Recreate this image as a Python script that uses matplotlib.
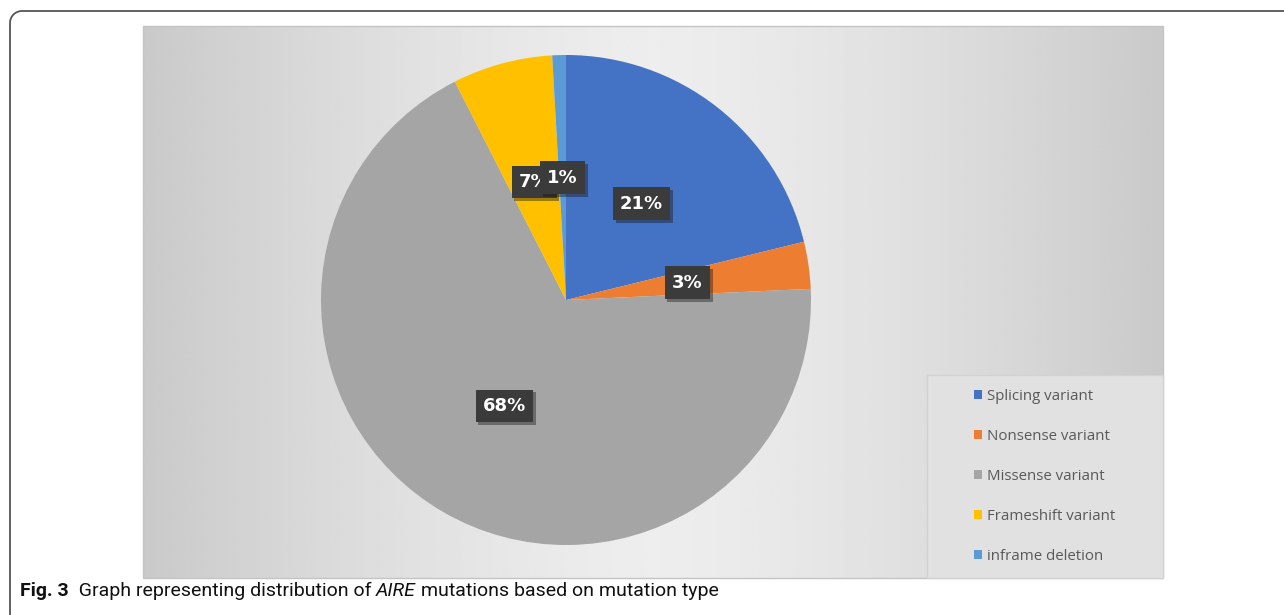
import numpy as np
import matplotlib
matplotlib.use('Agg')
import matplotlib.pyplot as plt
from matplotlib.patches import Rectangle, Arc
import matplotlib.patheffects as pe

# data (percent of mutations)
labels = ['Splicing variant', 'Nonsense variant', 'Missense variant',
          'Frameshift variant', 'inframe deletion']
values = [21.2, 3.1, 68.3, 6.6, 0.9]
colors = ['#4472C4', '#ED7D31', '#A5A5A5', '#FFC000', '#5B9BD5']
caption_bold = 'Fig. 3'
caption_parts = [('  Graph representing distribution of ', 'normal'),
                 ('AIRE', 'italic'),
                 (' mutations based on mutation type', 'normal')]

W, H = 1284, 615
fig = plt.figure(figsize=(W / 100, H / 100), dpi=100)

# full-figure axes in pixel units for the frame, panel and caption
bg = fig.add_axes([0, 0, 1, 1], zorder=0)

# outer frame: top and left lines with a rounded top-left corner
fc = '#555555'
bg.plot([22, W + 5], [11, 11], color=fc, lw=1.3, solid_capstyle='butt')
bg.plot([10, 10], [23, H + 5], color=fc, lw=1.3, solid_capstyle='butt')
bg.add_patch(Arc((22, 23), 24, 24, theta1=180, theta2=270, color=fc, lw=1.3))

# chart panel with horizontal grey gradient
px0, px1, py0, py1 = 143, 1163, 26, 578
xs = np.linspace(-1, 1, 400)
shade = 0.93 - 0.14 * np.abs(xs) ** 1.4
grad = np.tile(shade, (20, 1))
bg.imshow(grad, cmap='gray', vmin=0, vmax=1, aspect='auto',
          extent=(px0, px1, py1, py0), interpolation='bilinear')
bg.add_patch(Rectangle((px0, py0), px1 - px0, py1 - py0, fill=False,
                       edgecolor='#c4c4c4', linewidth=1))

# legend box
bg.add_patch(Rectangle((927, 375), px1 - 927, py1 - 375, facecolor='#e1e1e1',
                       edgecolor='#d2d2d2', linewidth=1))
bg.set_xlim(0, W)
bg.set_ylim(H, 0)
bg.axis('off')

# pie
cx, cy, R = 566, 300, 245
ax = fig.add_axes([(cx - R) / W, 1 - (cy + R) / H, 2 * R / W, 2 * R / H], zorder=2)
wedges, texts, autotexts = ax.pie(values, colors=colors, startangle=90,
                                  counterclock=False, autopct='%.0f%%',
                                  pctdistance=0.5, radius=1,
                                  wedgeprops=dict(linewidth=0))
ax.set_xlim(-1, 1)
ax.set_ylim(-1, 1)
ax.set_aspect('auto')
ax.axis('off')

for t in autotexts:
    t.set_color('white')
    t.set_fontsize(13)
    t.set_fontweight('bold')
    t.set_fontfamily('DejaVu Sans')
    t.set_bbox(dict(boxstyle='square,pad=0.4', facecolor='#3b3b3b', edgecolor='none'))
    t.get_bbox_patch().set_path_effects([pe.SimplePatchShadow(offset=(2, -2), alpha=0.4),
                                         pe.Normal()])

# legend
leg = fig.legend(wedges, labels, loc='upper left',
                 bbox_to_anchor=(968 / W, 1 - 383 / H), frameon=False,
                 prop={'family': 'Open Sans', 'size': 10.8},
                 handlelength=0.55, handleheight=0.55, handletextpad=0.3,
                 labelspacing=1.66, borderaxespad=0)
for txt in leg.get_texts():
    txt.set_color('#595959')

# caption
prev = bg.text(20, 591, caption_bold, fontsize=14, fontweight='bold',
               fontfamily='Roboto', va='center', ha='left', color='#111111')
for s, style in caption_parts:
    prev = bg.annotate(s, xy=(1, 0), xycoords=prev, va='bottom', ha='left',
                       fontsize=14, fontstyle=style, fontfamily='Roboto',
                       color='#111111')

fig.savefig('out.png', dpi=100)
